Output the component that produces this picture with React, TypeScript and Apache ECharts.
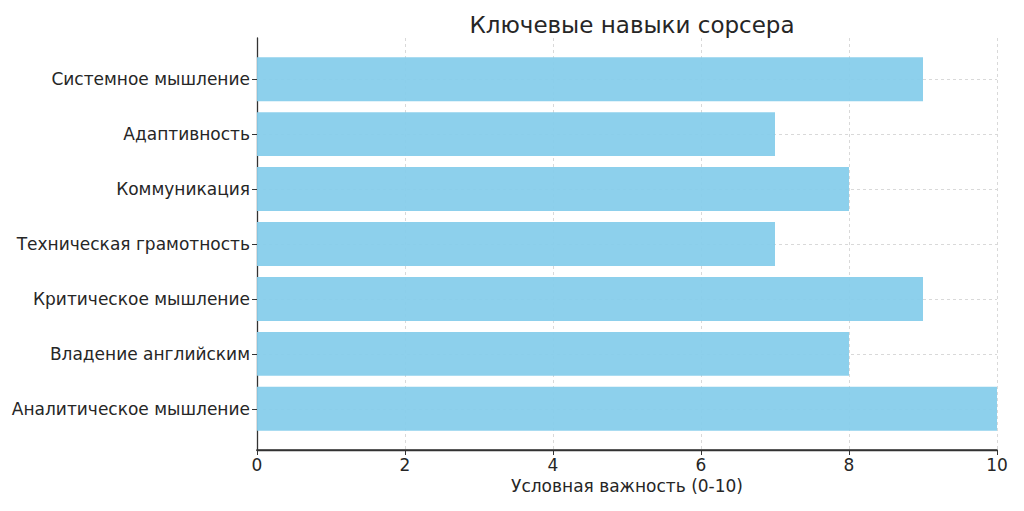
import React, { useEffect, useRef } from "react";
import * as echarts from "echarts";

const categories = [
  "Аналитическое мышление",
  "Владение английским",
  "Критическое мышление",
  "Техническая грамотность",
  "Коммуникация",
  "Адаптивность",
  "Системное мышление",
];
const values = [10, 8, 9, 7, 8, 7, 9];
const title = "Ключевые навыки сорсера";
const xName = "Условная важность (0-10)";

const GRID = { left: 257, right: 27, top: 38, bottom: 61 };
const W = 1024;
const H = 511;

export default function App() {
  const ref = useRef<HTMLDivElement>(null);
  useEffect(() => {
    if (!ref.current) return;
    const chart = echarts.init(ref.current, null, { renderer: "svg" });
    const idx = categories.map((_, i) => i);
    const font = "DejaVu Sans";
    chart.setOption({
      animation: false,
      backgroundColor: "#ffffff",
      title: {
        text: title,
        left: 627,
        top: 8,
        textAlign: "center",
        textStyle: { fontFamily: font, fontSize: 23, fontWeight: "normal", color: "#262626" },
      },
      grid: GRID,
      graphic: [
        {
          type: "rect",
          z: 100,
          silent: true,
          shape: { x: GRID.left - 0.6, y: H - GRID.bottom - 0.7, width: W - GRID.left - GRID.right + 1.2, height: 1.4 },
          style: { fill: "#333333" },
        },
      ],
      xAxis: {
        type: "value",
        position: "bottom",
        min: 0,
        max: 10,
        interval: 2,
        name: xName,
        nameLocation: "middle",
        nameGap: 27,
        nameTextStyle: { fontFamily: font, fontSize: 17, color: "#262626" },
        axisLine: { show: true, onZero: false, lineStyle: { color: "#333", width: 1.3 } },
        axisTick: { show: true, length: 5, lineStyle: { color: "#333" } },
        axisLabel: { margin: 6, fontFamily: font, fontSize: 17, color: "#262626" },
        splitLine: { show: true, lineStyle: { color: "#d9d9d9", type: [3, 3], width: 1 } },
      },
      yAxis: {
        type: "value",
        position: "left",
        min: -0.75,
        max: 6.75,
        axisLine: { show: true, onZero: false, lineStyle: { color: "#333", width: 1.3 } },
        axisTick: { show: true, length: 5, lineStyle: { color: "#333" }, customValues: idx },
        axisLabel: {
          margin: 7,
          fontFamily: font,
          fontSize: 17,
          color: "#262626",
          customValues: idx,
          formatter: (v: number) => categories[Math.round(v)] ?? "",
        },
        splitLine: { show: true, lineStyle: { color: "#d9d9d9", type: [3, 3], width: 1 } },
      },
      series: [
        {
          type: "custom",
          z: 5,
          data: values.map((v, i) => [v, i]),
          encode: { x: 0, y: 1 },
          renderItem: (params: any, api: any) => {
            const start = api.coord([0, api.value(1)]);
            const end = api.coord([api.value(0), api.value(1)]);
            const h = api.size([0, 0.8])[1];
            return {
              type: "rect",
              shape: { x: start[0], y: start[1] - h / 2, width: end[0] - start[0], height: h },
              style: { fill: "#87CEEB", opacity: 0.95 },
            };
          },
        },
      ],
    });
    return () => chart.dispose();
  }, []);
  return (
    <div
      ref={ref}
      style={{ position: "fixed", left: 0, top: 0, width: W, height: H }}
    />
  );
}
